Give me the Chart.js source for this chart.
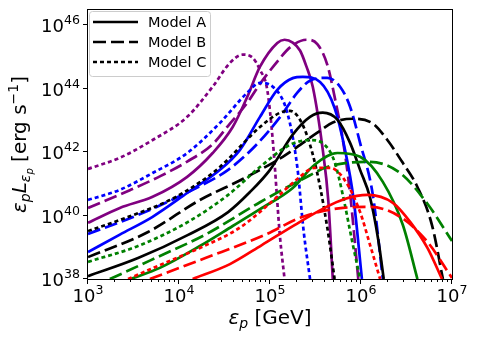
<!DOCTYPE html>
<html>
<head>
<meta charset="utf-8">
<script src="https://cdn.jsdelivr.net/npm/chart.js@4.4.0/dist/chart.umd.min.js"></script>
<style>
  html, body { margin: 0; padding: 0; background: #fff; }
  canvas { display: block; }
</style>
</head>
<body>
<canvas id="chart" width="478" height="342"></canvas>
<script>
// values as [log10(eps_p / GeV), log10(eps_p L / erg s^-1)]
const redA = [[4.15,38.00],[4.56,38.47],[4.91,39.07],[5.27,39.70],[5.58,40.21],[5.82,40.52],[6.07,40.65],[6.35,40.40],[6.54,39.80],[6.73,38.98],[6.89,38.00]];
const redB = [[3.68,38.00],[4.29,38.66],[4.95,39.40],[5.36,39.96],[5.80,40.24],[6.10,40.27],[6.43,39.96],[6.73,39.17],[7.00,38.03]];
const redC = [[3.44,38.00],[3.79,38.44],[4.23,38.98],[4.67,39.62],[5.08,40.59],[5.30,41.15],[5.49,41.50],[5.66,41.50],[5.82,41.12],[5.99,40.11],[6.10,39.07],[6.21,38.00]];

const greenA = [[3.47,38.00],[3.79,38.35],[4.23,39.04],[4.59,39.67],[4.89,40.20],[5.25,40.87],[5.49,41.60],[5.74,41.97],[5.99,41.85],[6.24,41.06],[6.46,39.70],[6.62,38.00]];
const greenB = [[3.24,38.00],[3.41,38.22],[3.74,38.66],[4.29,39.40],[4.89,40.42],[5.36,41.15],[5.66,41.56],[6.10,41.69],[6.43,41.34],[6.73,40.37],[7.00,39.20]];
const greenC = [[3.00,38.54],[3.55,39.04],[4.10,39.80],[4.54,40.65],[4.89,41.53],[5.22,42.23],[5.44,42.38],[5.60,42.23],[5.71,41.69],[5.80,40.65],[5.90,39.23],[5.99,38.00]];

const blackA = [[3.00,38.09],[3.55,38.66],[4.10,39.39],[4.54,40.11],[4.78,40.74],[5.00,41.44],[5.25,42.55],[5.44,43.11],[5.58,43.24],[5.74,43.02],[5.88,42.29],[5.99,41.44],[6.10,40.56],[6.19,39.23],[6.25,38.00]];
const blackB = [[3.00,38.69],[3.66,39.48],[4.23,40.49],[4.70,41.15],[5.14,41.85],[5.52,42.61],[5.69,42.93],[5.91,43.05],[6.13,42.90],[6.29,42.38],[6.45,41.70],[6.62,40.90],[6.78,39.70],[6.90,38.00]];
const blackC = [[3.00,39.51],[3.35,39.86],[3.90,40.49],[4.23,41.05],[4.45,41.53],[4.89,42.79],[5.11,43.24],[5.22,43.30],[5.33,43.02],[5.44,42.23],[5.53,41.19],[5.63,39.61],[5.71,38.00]];

const blueA = [[3.00,38.85],[3.35,39.40],[3.71,39.96],[4.09,40.71],[4.45,41.44],[4.67,42.07],[4.89,43.11],[5.08,43.96],[5.25,44.33],[5.36,44.37],[5.55,44.21],[5.71,43.39],[5.82,42.13],[5.92,40.49],[6.01,38.00]];
const blueB = [[3.00,39.42],[3.55,40.02],[4.10,40.74],[4.54,41.44],[4.84,42.20],[5.11,43.10],[5.30,43.87],[5.44,44.25],[5.63,44.34],[5.77,44.06],[5.88,43.43],[5.99,42.29],[6.13,40.65],[6.24,38.00]];
const blueC = [[3.00,40.49],[3.35,40.81],[3.71,41.34],[4.09,41.97],[4.45,42.92],[4.75,43.87],[4.89,44.18],[5.03,44.06],[5.19,43.24],[5.30,41.53],[5.37,39.50],[5.44,38.00]];

const purpleA = [[3.00,39.77],[3.35,40.24],[3.71,40.59],[4.09,41.22],[4.37,41.97],[4.59,42.79],[4.75,43.74],[4.89,44.69],[5.08,45.44],[5.16,45.54],[5.25,45.45],[5.33,45.20],[5.40,44.70],[5.47,44.06],[5.58,42.07],[5.64,40.49],[5.69,38.00]];
const purpleB = [[3.00,40.24],[3.46,40.80],[3.80,41.25],[4.09,41.70],[4.37,42.25],[4.56,42.90],[4.75,43.55],[4.89,44.15],[5.08,44.85],[5.22,45.30],[5.40,45.54],[5.52,45.40],[5.63,44.75],[5.72,43.60],[5.80,42.40],[5.88,40.70],[5.97,38.00]];
const purpleC = [[3.00,41.47],[3.35,41.82],[3.71,42.38],[4.09,43.11],[4.37,44.06],[4.56,44.81],[4.70,45.07],[4.81,44.97],[4.89,44.59],[4.97,43.96],[5.03,42.38],[5.11,39.32],[5.16,38.00]];

const xTicks = [3, 4, 5, 6, 7];
const yTicks = [38, 40, 42, 44, 46];
const modelLabels = ['Model A', 'Model B', 'Model C'];

const dashes = [[], [13, 5], [4, 3]];
const curves = [
  ['red', [redA, redB, redC]],
  ['green', [greenA, greenB, greenC]],
  ['black', [blackA, blackB, blackC]],
  ['blue', [blueA, blueB, blueC]],
  ['purple', [purpleA, purpleB, purpleC]]
];

const datasets = [];
curves.forEach(([color, list]) => {
  list.forEach((pts, i) => {
    datasets.push({
      label: color + ' ' + modelLabels[i],
      data: pts.map(p => ({ x: Math.pow(10, p[0]), y: Math.pow(10, p[1]) })),
      borderColor: color,
      borderWidth: 2.7,
      borderDash: dashes[i],
      fill: false
    });
  });
});

const FONT = '"DejaVu Sans", sans-serif';

// draws pieces of mathtext-like text; returns total width
function drawParts(ctx, parts, x, y, measureOnly) {
  let w = 0;
  parts.forEach(p => {
    ctx.font = (p.italic ? 'italic ' : '') + p.size + 'px ' + FONT;
    if (!measureOnly) ctx.fillText(p.t, x + w, y - (p.dy || 0));
    w += ctx.measureText(p.t).width;
  });
  return w;
}

function powParts(e) {
  return [{ t: '10', size: 18 }, { t: String(e), size: 12.6, dy: 8 }];
}

const mplAxes = {
  id: 'mplAxes',
  afterDraw(chart) {
    const ctx = chart.ctx, a = chart.chartArea;
    const xs = chart.scales.x, ys = chart.scales.y;
    ctx.save();
    ctx.fillStyle = '#000';
    ctx.strokeStyle = '#000';
    ctx.lineWidth = 1;
    ctx.textBaseline = 'alphabetic';

    // frame
    ctx.strokeRect(Math.round(a.left) - 0.5, Math.round(a.top) - 0.5,
      Math.round(a.right - a.left) + 1, Math.round(a.bottom - a.top) + 1);

    // ticks, minor ones on x only
    ctx.beginPath();
    for (let e = xTicks[0]; e <= xTicks[xTicks.length - 1]; e++) {
      const px = Math.round(xs.getPixelForValue(Math.pow(10, e))) - 0.5;
      ctx.moveTo(px, a.bottom); ctx.lineTo(px, a.bottom + 5);
      if (e < xTicks[xTicks.length - 1]) {
        for (let k = 2; k <= 9; k++) {
          const mx = Math.round(xs.getPixelForValue(k * Math.pow(10, e))) - 0.5;
          ctx.moveTo(mx, a.bottom); ctx.lineTo(mx, a.bottom + 3);
        }
      }
    }
    yTicks.forEach(e => {
      const py = Math.round(ys.getPixelForValue(Math.pow(10, e))) - 0.5;
      ctx.moveTo(a.left - 5, py); ctx.lineTo(a.left, py);
    });
    ctx.stroke();

    // tick labels
    xTicks.forEach(e => {
      const px = xs.getPixelForValue(Math.pow(10, e));
      const w = drawParts(ctx, powParts(e), 0, 0, true);
      drawParts(ctx, powParts(e), px - w / 2, a.bottom + 23);
    });
    yTicks.forEach(e => {
      const py = ys.getPixelForValue(Math.pow(10, e));
      const w = drawParts(ctx, powParts(e), 0, 0, true);
      drawParts(ctx, powParts(e), a.left - 8 - w, py + 7);
    });

    // x axis title
    const xt = [{ t: '\u03b5', size: 20, italic: true }, { t: 'p', size: 14, italic: true, dy: -4 },
                { t: ' [GeV]', size: 20 }];
    const xw = drawParts(ctx, xt, 0, 0, true);
    drawParts(ctx, xt, (a.left + a.right) / 2 - xw / 2, 324);

    // y axis title
    const yt = [{ t: '\u03b5', size: 20, italic: true }, { t: 'p', size: 14, italic: true, dy: -4 },
                { t: 'L', size: 20, italic: true }, { t: '\u03b5', size: 14, italic: true, dy: -4 },
                { t: 'p', size: 10, italic: true, dy: -7 },
                { t: ' [erg s', size: 20 }, { t: '\u22121', size: 14, dy: 8 }, { t: ']', size: 20 }];
    const yw = drawParts(ctx, yt, 0, 0, true);
    ctx.save();
    ctx.translate(26, (a.top + a.bottom) / 2);
    ctx.rotate(-Math.PI / 2);
    drawParts(ctx, yt, -yw / 2, 0);
    ctx.restore();

    // legend inside the axes, upper left
    const lx = a.left + 1.5, ly = a.top + 1.5, lw = 121, lh = 65;
    ctx.beginPath();
    ctx.roundRect(lx, ly, lw, lh, 3);
    ctx.fillStyle = 'rgba(255,255,255,0.8)';
    ctx.fill();
    ctx.strokeStyle = '#cccccc';
    ctx.stroke();
    ctx.fillStyle = '#000';
    ctx.strokeStyle = '#000';
    ctx.lineWidth = 2.7;
    modelLabels.forEach((lab, i) => {
      const y = a.top + 12 + i * 20;
      ctx.setLineDash(dashes[i]);
      ctx.beginPath();
      ctx.moveTo(a.left + 5, y); ctx.lineTo(a.left + 50, y);
      ctx.stroke();
      ctx.setLineDash([]);
      ctx.font = '14.5px ' + FONT;
      ctx.fillText(lab, a.left + 60, y + 5);
    });
    ctx.restore();
  }
};

new Chart(document.getElementById('chart'), {
  type: 'line',
  data: { datasets: datasets },
  options: {
    responsive: false,
    animation: false,
    events: [],
    layout: { padding: { left: 88, right: 26, top: 10, bottom: 63 } },
    plugins: { legend: { display: false }, tooltip: { enabled: false } },
    elements: {
      point: { radius: 0 },
      line: { tension: 0.4, cubicInterpolationMode: 'monotone', borderCapStyle: 'butt' }
    },
    scales: {
      x: { type: 'logarithmic', min: 1e3, max: 1e7, display: false },
      y: { type: 'logarithmic', min: 1e38, max: 3e46, display: false }
    }
  },
  plugins: [mplAxes]
});
</script>
</body>
</html>
